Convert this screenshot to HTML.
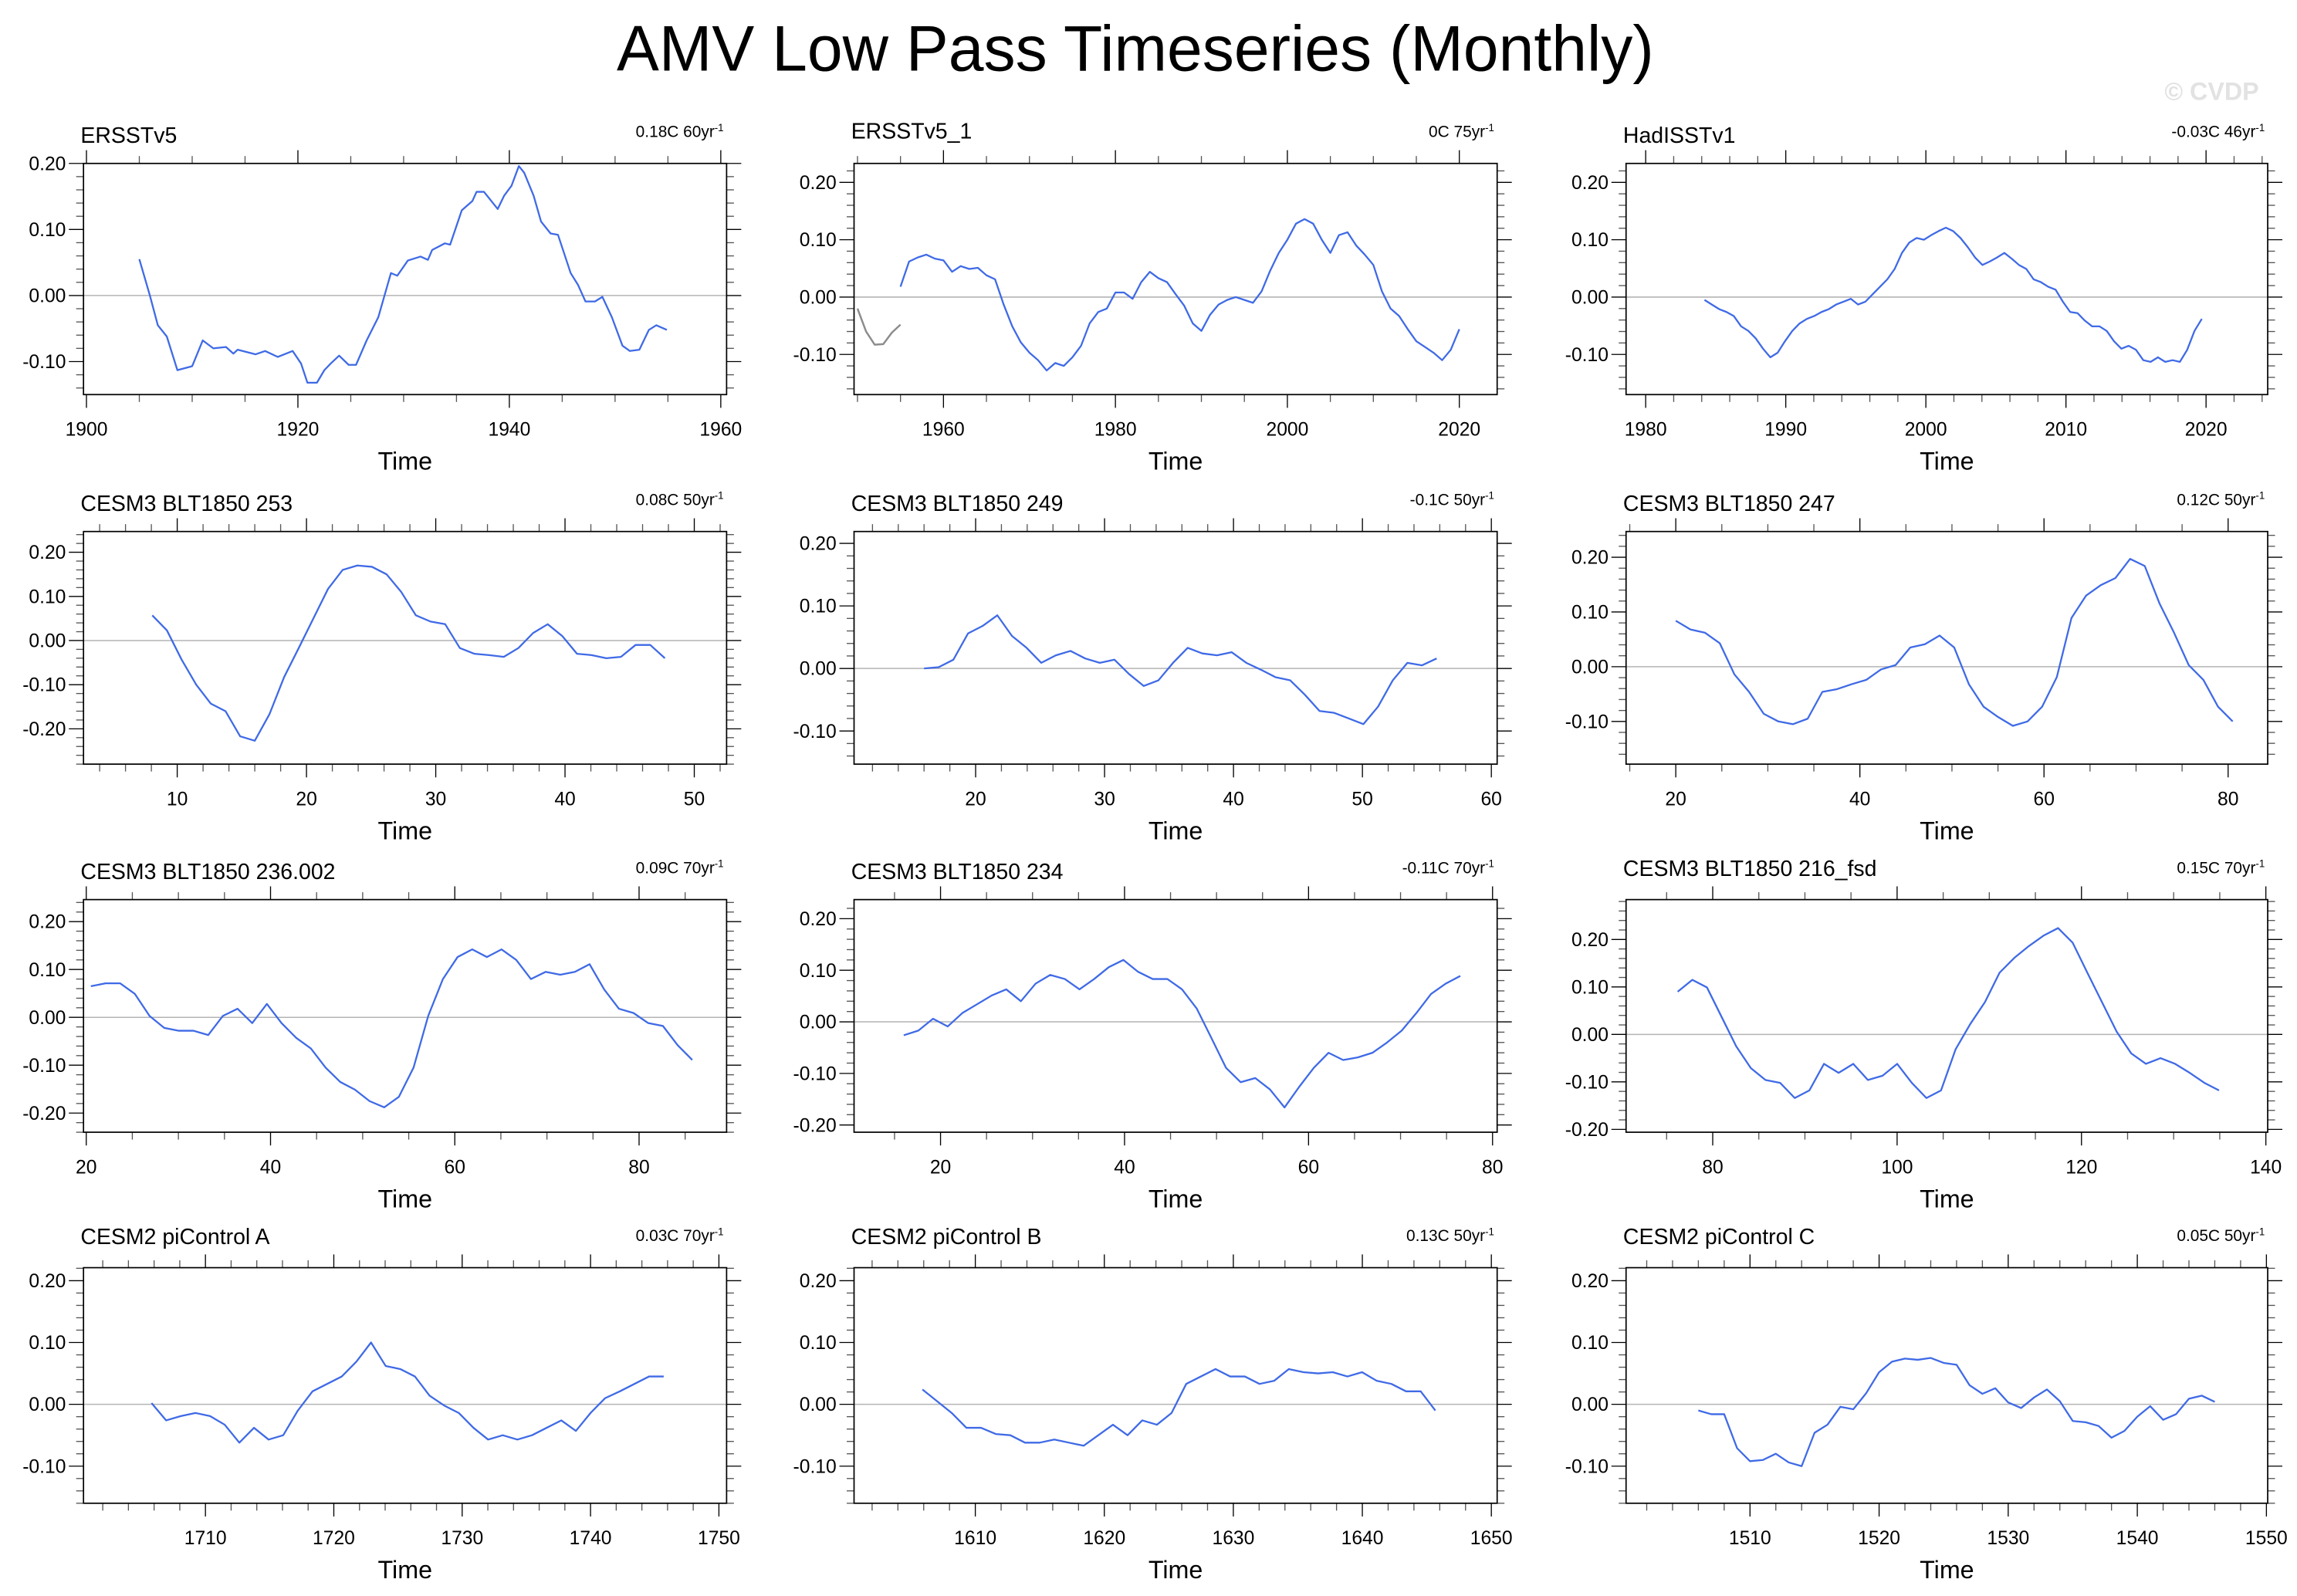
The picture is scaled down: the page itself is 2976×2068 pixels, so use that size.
<!DOCTYPE html>
<html><head><meta charset="utf-8">
<style>
html,body{margin:0;padding:0;background:#fff;}
svg{display:block;font-family:"Liberation Sans",Arial,sans-serif;}
</style></head>
<body>
<svg id="fig" width="2976" height="2068" viewBox="0 0 1568 1084" preserveAspectRatio="none" xmlns="http://www.w3.org/2000/svg">
<rect x="0" y="0" width="1568" height="1084" fill="#fff"/>
<text x="775" y="48" font-size="44" text-anchor="middle" textLength="708" lengthAdjust="spacingAndGlyphs" fill="#000">AMV Low Pass Timeseries (Monthly)</text>
<text x="1542" y="68" font-size="17" text-anchor="end" fill="#e2e2e2" font-weight="bold">© CVDP</text>
</svg>
<script>
// ---- data arrays (values in degC, time in years) ----
const p1Times=[1905.0,1906.0,1906.75,1907.6,1908.6,1910.0,1911.0,1912.0,1913.2,1913.9,1914.3,1916.0,1916.9,1918.1,1919.5,1920.3,1920.9,1921.8,1922.5,1923.1,1923.9,1924.8,1925.5,1926.5,1927.6,1928.8,1929.4,1930.4,1931.6,1932.3,1932.7,1933.9,1934.4,1935.5,1936.5,1936.9,1937.6,1938.3,1938.9,1939.5,1940.2,1940.9,1941.4,1942.3,1943.0,1943.9,1944.6,1945.8,1946.5,1947.2,1948.1,1948.8,1949.7,1950.7,1951.4,1952.3,1953.2,1953.9,1954.9];
const p1Vals=[0.055,0.00,-0.045,-0.062,-0.113,-0.107,-0.068,-0.08,-0.078,-0.088,-0.082,-0.089,-0.084,-0.093,-0.084,-0.103,-0.132,-0.132,-0.113,-0.103,-0.091,-0.105,-0.105,-0.068,-0.033,0.034,0.03,0.053,0.059,0.054,0.069,0.079,0.077,0.129,0.143,0.157,0.157,0.143,0.131,0.151,0.166,0.196,0.186,0.151,0.112,0.094,0.092,0.034,0.016,-0.009,-0.009,-0.002,-0.033,-0.076,-0.084,-0.082,-0.052,-0.045,-0.052];
const p2Start=1955, p2Step=1;
const p2Vals=[0.018,0.062,0.069,0.074,0.067,0.064,0.044,0.054,0.049,0.051,0.038,0.031,-0.013,-0.051,-0.079,-0.097,-0.11,-0.128,-0.115,-0.12,-0.105,-0.085,-0.046,-0.026,-0.02,0.008,0.008,-0.003,0.026,0.044,0.033,0.026,0.005,-0.015,-0.046,-0.059,-0.031,-0.013,-0.005,0,-0.005,-0.01,0.01,0.046,0.077,0.1,0.128,0.136,0.128,0.1,0.077,0.108,0.113,0.09,0.074,0.056,0.01,-0.02,-0.033,-0.056,-0.077,-0.087,-0.097,-0.11,-0.092,-0.056];
const p2GrayStart=1950, p2GrayStep=1;
const p2GrayVals=[-0.02,-0.06,-0.083,-0.082,-0.062,-0.048];
const p3Start=1984.2, p3Step=0.522;
const p3Vals=[-0.005,-0.013,-0.021,-0.026,-0.033,-0.051,-0.059,-0.072,-0.09,-0.105,-0.097,-0.077,-0.059,-0.046,-0.038,-0.033,-0.026,-0.021,-0.013,-0.008,-0.003,-0.013,-0.008,0.005,0.018,0.031,0.049,0.077,0.095,0.103,0.1,0.108,0.115,0.121,0.115,0.103,0.087,0.069,0.056,0.062,0.069,0.077,0.067,0.056,0.049,0.031,0.026,0.018,0.013,-0.008,-0.026,-0.028,-0.041,-0.051,-0.051,-0.059,-0.077,-0.09,-0.085,-0.092,-0.11,-0.113,-0.105,-0.113,-0.11,-0.113,-0.092,-0.059,-0.038];
const p4Start=8.07, p4Step=1.133;
const p4Vals=[0.057,0.023,-0.043,-0.1,-0.143,-0.16,-0.217,-0.227,-0.167,-0.083,-0.017,0.05,0.117,0.16,0.17,0.167,0.15,0.11,0.057,0.043,0.037,-0.017,-0.03,-0.033,-0.037,-0.017,0.017,0.037,0.01,-0.03,-0.033,-0.04,-0.037,-0.01,-0.01,-0.04];
const p5Start=16.0, p5Step=1.136;
const p5Vals=[0,0.002,0.014,0.056,0.068,0.085,0.052,0.033,0.009,0.021,0.028,0.016,0.009,0.014,-0.009,-0.028,-0.019,0.009,0.033,0.024,0.021,0.026,0.009,-0.002,-0.014,-0.019,-0.042,-0.068,-0.071,-0.08,-0.089,-0.061,-0.019,0.009,0.005,0.016];
const p6Start=20, p6Step=1.592;
const p6Vals=[0.084,0.068,0.062,0.043,-0.014,-0.046,-0.086,-0.1,-0.105,-0.095,-0.046,-0.041,-0.032,-0.024,-0.005,0.003,0.035,0.041,0.057,0.035,-0.032,-0.073,-0.092,-0.108,-0.1,-0.073,-0.019,0.089,0.13,0.149,0.162,0.197,0.184,0.116,0.062,0.003,-0.024,-0.073,-0.1];
const p7Start=20.5, p7Step=1.592;
const p7Vals=[0.065,0.071,0.071,0.049,0.003,-0.022,-0.028,-0.028,-0.037,0.003,0.018,-0.012,0.028,-0.012,-0.043,-0.065,-0.105,-0.135,-0.151,-0.175,-0.188,-0.166,-0.105,0.003,0.08,0.126,0.142,0.126,0.142,0.12,0.08,0.095,0.089,0.095,0.111,0.058,0.018,0.009,-0.012,-0.018,-0.058,-0.089];
const p8Start=16.0, p8Step=1.592;
const p8Vals=[-0.026,-0.017,0.006,-0.009,0.017,0.034,0.051,0.063,0.04,0.074,0.091,0.083,0.063,0.083,0.106,0.12,0.097,0.083,0.083,0.063,0.026,-0.031,-0.089,-0.117,-0.109,-0.131,-0.166,-0.126,-0.089,-0.06,-0.074,-0.069,-0.06,-0.04,-0.017,0.017,0.054,0.074,0.089];
const p9Start=76.2, p9Step=1.587;
const p9Vals=[0.09,0.115,0.099,0.037,-0.025,-0.071,-0.096,-0.102,-0.134,-0.118,-0.062,-0.081,-0.062,-0.096,-0.087,-0.062,-0.102,-0.134,-0.118,-0.031,0.022,0.068,0.13,0.161,0.186,0.208,0.224,0.193,0.13,0.068,0.006,-0.04,-0.062,-0.05,-0.062,-0.081,-0.102,-0.118];
const p10Start=1705.8, p10Step=1.14;
const p10Vals=[0.002,-0.026,-0.019,-0.014,-0.019,-0.033,-0.062,-0.038,-0.057,-0.05,-0.01,0.021,0.033,0.045,0.069,0.1,0.062,0.057,0.045,0.014,-0.002,-0.014,-0.038,-0.057,-0.05,-0.057,-0.05,-0.038,-0.026,-0.043,-0.014,0.01,0.021,0.033,0.045,0.045];
const p11Start=1605.9, p11Step=1.136;
const p11Vals=[0.024,0.005,-0.014,-0.038,-0.038,-0.048,-0.05,-0.062,-0.062,-0.057,-0.062,-0.067,-0.05,-0.033,-0.05,-0.026,-0.033,-0.014,0.033,0.045,0.057,0.045,0.045,0.033,0.038,0.057,0.052,0.05,0.052,0.045,0.052,0.038,0.033,0.021,0.021,-0.01];
const p12Start=1506, p12Step=1;
const p12Vals=[-0.010,-0.016,-0.016,-0.071,-0.092,-0.09,-0.08,-0.094,-0.1,-0.046,-0.033,-0.004,-0.008,0.018,0.052,0.069,0.074,0.072,0.075,0.067,0.064,0.031,0.017,0.026,0.003,-0.006,0.011,0.024,0.005,-0.027,-0.029,-0.035,-0.054,-0.043,-0.02,-0.003,-0.025,-0.016,0.009,0.014,0.004];
const panelTitles=["ERSSTv5","ERSSTv5_1","HadISSTv1","CESM3 BLT1850 253","CESM3 BLT1850 249","CESM3 BLT1850 247","CESM3 BLT1850 236.002","CESM3 BLT1850 234","CESM3 BLT1850 216_fsd","CESM2 piControl A","CESM2 piControl B","CESM2 piControl C"];
const trendVals=["0.18C 60yr","0C 75yr","-0.03C 46yr","0.08C 50yr","-0.1C 50yr","0.12C 50yr","0.09C 70yr","-0.11C 70yr","0.15C 70yr","0.03C 70yr","0.13C 50yr","0.05C 50yr"];

function seq(start,step,n){const a=[];for(let i=0;i<n;i++)a.push(start+i*step);return a;}

// ---- layout (not data) ----
const cols=[[57,496],[583,1022],[1110,1548]];
const rows=[[111,268],[361,519],[611,769],[861,1021]];
const panels=[
 {c:0,r:0,x0:1899.72,x1:1960.55,y0:-0.15,y1:0.20,maj:20,min:5,t:p1Times,v:p1Vals,ty:97},
 {c:1,r:0,x0:1949.6,x1:2024.4,y0:-0.17,y1:0.233,maj:20,min:5,t:seq(p2Start,p2Step,p2Vals.length),v:p2Vals,ty:94,gt:seq(p2GrayStart,p2GrayStep,p2GrayVals.length),gv:p2GrayVals},
 {c:2,r:0,x0:1978.6,x1:2024.4,y0:-0.17,y1:0.233,maj:10,min:2,t:seq(p3Start,p3Step,p3Vals.length),v:p3Vals,ty:97},
 {c:0,r:1,x0:2.75,x1:52.5,y0:-0.28,y1:0.247,maj:10,min:2,t:seq(p4Start,p4Step,p4Vals.length),v:p4Vals,ty:347},
 {c:1,r:1,x0:10.57,x1:60.45,y0:-0.153,y1:0.219,maj:10,min:2,t:seq(p5Start,p5Step,p5Vals.length),v:p5Vals,ty:347},
 {c:2,r:1,x0:14.6,x1:84.3,y0:-0.178,y1:0.247,maj:20,min:5,t:seq(p6Start,p6Step,p6Vals.length),v:p6Vals,ty:347},
 {c:0,r:2,x0:19.7,x1:89.5,y0:-0.24,y1:0.246,maj:20,min:5,t:seq(p7Start,p7Step,p7Vals.length),v:p7Vals,ty:597},
 {c:1,r:2,x0:10.6,x1:80.5,y0:-0.214,y1:0.237,maj:20,min:5,t:seq(p8Start,p8Step,p8Vals.length),v:p8Vals,ty:597},
 {c:2,r:2,x0:70.6,x1:140.2,y0:-0.206,y1:0.284,maj:20,min:5,t:seq(p9Start,p9Step,p9Vals.length),v:p9Vals,ty:595},
 {c:0,r:3,x0:1700.5,x1:1750.6,y0:-0.16,y1:0.221,maj:10,min:2,t:seq(p10Start,p10Step,p10Vals.length),v:p10Vals,ty:845},
 {c:1,r:3,x0:1600.6,x1:1650.45,y0:-0.16,y1:0.221,maj:10,min:2,t:seq(p11Start,p11Step,p11Vals.length),v:p11Vals,ty:845},
 {c:2,r:3,x0:1500.4,x1:1550.1,y0:-0.16,y1:0.221,maj:10,min:2,t:seq(p12Start,p12Step,p12Vals.length),v:p12Vals,ty:845}
];
const NS="http://www.w3.org/2000/svg";
const svg=document.getElementById('fig');
function mk(tag,attrs,parent){const e=document.createElementNS(NS,tag);for(const k in attrs)e.setAttribute(k,attrs[k]);(parent||svg).appendChild(e);return e;}
function line(g,x1,y1,x2,y2,w,col){return mk('line',{x1:x1,y1:y1,x2:x2,y2:y2,stroke:col||'#000','stroke-width':w||0.8},g);}

panels.forEach((p,i)=>{
  const L=cols[p.c][0],R=cols[p.c][1],T=rows[p.r][0],B=rows[p.r][1];
  const xs=t=>L+(t-p.x0)/(p.x1-p.x0)*(R-L);
  const ys=v=>B-(v-p.y0)/(p.y1-p.y0)*(B-T);
  const g=mk('g',{});
  
  
  const z=line(g,L,ys(0),R,ys(0),0.8,'#b4b4b4');
  
  
  const eps=1e-6;
  for(let t=Math.ceil(p.x0/p.min)*p.min;t<=p.x1+eps;t+=p.min){
    const isMaj=Math.abs(t/p.maj-Math.round(t/p.maj))<1e-6;
    const x=xs(t),len=isMaj?9:5;
    line(g,x,T,x,T-len,0.7,isMaj?'#000':'#555');
    line(g,x,B,x,B+len,0.7,isMaj?'#000':'#555');
    if(isMaj){
      const tl=mk('text',{x:x,y:B+28,'font-size':13,'text-anchor':'middle',fill:'#000'},g);
      tl.textContent=String(Math.round(t));
      
      
    }
  }
  for(let k=Math.ceil(p.y0/0.02-eps);k*0.02<=p.y1+eps;k++){
    const v=k*0.02,isMaj=(k%5===0);
    const y=ys(v),len=isMaj?10:5;
    line(g,L,y,L-len,y,0.7,isMaj?'#000':'#555');
    line(g,R,y,R+len,y,0.7,isMaj?'#000':'#555');
    if(isMaj){
      const yl=mk('text',{x:L-12,y:y+4.5,'font-size':13,'text-anchor':'end',fill:'#000'},g);
      yl.textContent=v.toFixed(2).replace('-0.00','0.00');
      
      
    }
  }
  const fr=mk('rect',{x:L,y:T,width:R-L,height:B-T,fill:'none',stroke:'#000','stroke-width':0.9},g);
  
  
  if(p.gt){
    const gpts=[];for(let j=0;j<p.gt.length;j++)gpts.push(xs(p.gt[j]).toFixed(2)+','+ys(p.gv[j]).toFixed(2));
    const gp=mk('polyline',{points:gpts.join(' '),fill:'none',stroke:'#8c8c8c','stroke-width':1.3,'stroke-linejoin':'round'},g);
    
    
  }
  const n=Math.min(p.t.length,p.v.length);
  const pts=[];for(let j=0;j<n;j++)pts.push(xs(p.t[j]).toFixed(2)+','+ys(p.v[j]).toFixed(2));
  const pl=mk('polyline',{points:pts.join(' '),fill:'none',stroke:'#3f6ae6','stroke-width':1.2,'stroke-linejoin':'round'},g);
  
  
  const tt=mk('text',{x:L-2,y:p.ty,'font-size':15,fill:'#000'},g);
  tt.textContent=panelTitles[i];
  
  
  const tr=mk('text',{x:R-2,y:T-18,'font-size':11,'text-anchor':'end',fill:'#000'},g);
  tr.textContent=trendVals[i];
  const sup=mk('tspan',{dy:-4,'font-size':7},tr);
  sup.textContent='-1';
  
  
  const xt=mk('text',{x:(L+R)/2,y:B+51,'font-size':17,'text-anchor':'middle',fill:'#000'},g);
  xt.textContent='Time';
  
  
});
</script>
</body></html>
